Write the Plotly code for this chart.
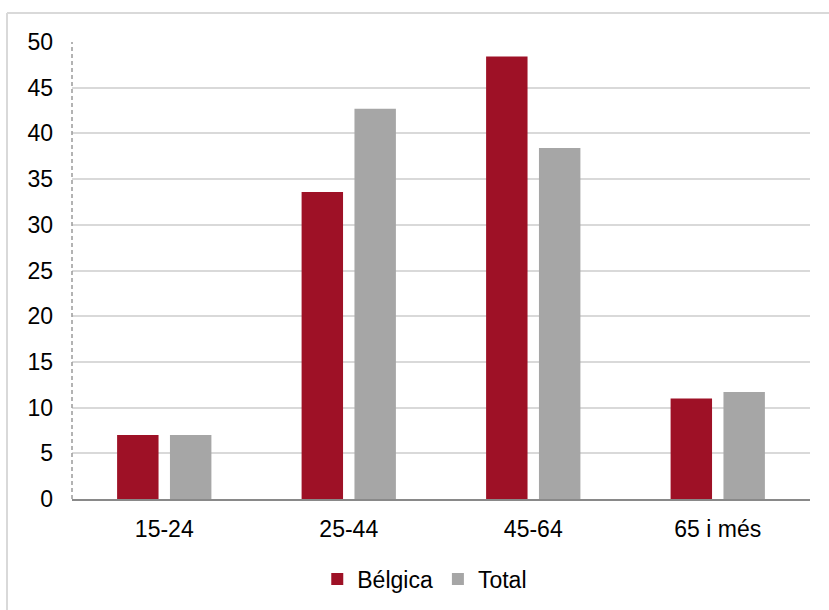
import plotly.graph_objects as go

categories = ["15-24", "25-44", "45-64", "65 i més"]
belgica = [7.0, 33.6, 48.4, 11.0]
total = [7.0, 42.7, 38.4, 11.7]
y_ticks = [0, 5, 10, 15, 20, 25, 30, 35, 40, 45, 50]

FONT = "Liberation Sans, Arial, sans-serif"
FS = 23

fig = go.Figure()
fig.add_trace(go.Bar(name="Bélgica", x=categories, y=belgica,
                     marker=dict(color="#9E1126", line=dict(width=0))))
fig.add_trace(go.Bar(name="Total", x=categories, y=total,
                     marker=dict(color="#A6A6A6", line=dict(width=0))))

# frame edges (paper coords relative to plot area 72..810 x 42..499)
fx0 = -65 / 738
fy1 = (499 - 13) / 457
fig.update_layout(
    width=829, height=610,
    margin=dict(l=72, r=19, t=42, b=111, autoexpand=False),
    paper_bgcolor="white", plot_bgcolor="white",
    barmode="group", bargap=0.427, bargroupgap=0.216,
    font=dict(family=FONT, size=FS, color="#000000"),
    showlegend=True,
    legend=dict(orientation="h", x=0.478, xanchor="center", y=-0.175, yanchor="middle",
                font=dict(family=FONT, size=FS, color="#000000"), itemwidth=30,
                tracegroupgap=0, bgcolor="rgba(0,0,0,0)"),
    xaxis=dict(showline=True, linecolor="#898989", linewidth=2, ticks="",
               showgrid=False, ticklabelstandoff=8, fixedrange=True, automargin=False,
               tickfont=dict(family=FONT, size=FS, color="#000000")),
    yaxis=dict(range=[0, 50], tickvals=y_ticks, showgrid=True, gridcolor="#D9D9D9",
               gridwidth=2, zeroline=False, showline=False, ticks="",
               ticklabelstandoff=18, fixedrange=True, automargin=False,
               tickfont=dict(family=FONT, size=FS, color="#000000")),
    shapes=[
        dict(type="line", xref="paper", yref="y", x0=0, x1=0, y0=0, y1=50,
             line=dict(color="#9A9A9A", width=1.5, dash="4px,3px")),
        dict(type="line", xref="paper", yref="paper", x0=fx0, x1=1.05, y0=fy1, y1=fy1,
             line=dict(color="#D9D9D9", width=2), layer="below"),
        dict(type="line", xref="paper", yref="paper", x0=fx0, x1=fx0, y0=fy1, y1=-0.3,
             line=dict(color="#D9D9D9", width=2), layer="below"),
    ],
)

fig.write_html("out.html", config={"displayModeBar": False, "staticPlot": True},
               post_script="document.body.style.margin='0px';")
